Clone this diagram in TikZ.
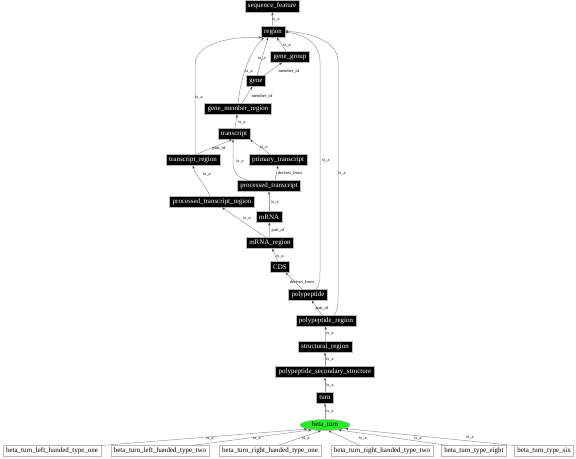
\documentclass[tikz,border=0pt]{standalone}
\usepackage{fontspec}
\setmainfont{Liberation Serif}
\usetikzlibrary{arrows.meta,shapes.geometric}
\definecolor{edgegray}{gray}{0.6}
\definecolor{tipgray}{gray}{0.3}
\definecolor{bordergray}{gray}{0.72}
\definecolor{btgreen}{RGB}{40,235,40}
\tikzset{
 term/.style={draw=bordergray, line width=0.6bp, fill=black, text=white, font=\fontsize{7}{8}\selectfont, inner xsep=3bp, inner ysep=0bp, minimum height=10.5bp},
 leaf/.style={term, fill=white, text=black},
 conn/.style={draw=edgegray, line width=0.5bp, -{Stealth[length=3.2bp,width=2.4bp,color=tipgray]}},
 lbl/.style={font=\fontsize{4.5}{5}\selectfont, inner sep=0.5bp},
}
\begin{document}
\begin{tikzpicture}[x=1bp,y=-1bp]
\useasboundingbox (0,0) rectangle (576,459);
% nodes
\node[term, minimum height=12bp] (seqf) at (272,6) {sequence\_feature};
\node[term] (region) at (273,32) {region};
\node[term] (gg) at (290,57) {gene\_group};
\node[term] (gene) at (256,81) {gene};
\node[term] (gmr) at (238,109) {gene\_member\_region};
\node[term] (transcript) at (234,134) {transcript};
\node[term] (trreg) at (193,160) {transcript\_region};
\node[term] (ptrans) at (278,160) {primary\_transcript};
\node[term] (proct) at (269,186) {processed\_transcript};
\node[term] (ptrreg) at (212,202) {processed\_transcript\_region};
\node[term] (mrna) at (269,217) {mRNA};
\node[term] (mreg) at (270,243) {mRNA\_region};
\node[term] (cds) at (280,267) {CDS};
\node[term] (pp) at (308,295) {polypeptide};
\node[term] (ppr) at (326,321) {polypeptide\_region};
\node[term] (sr) at (325,347) {structural\_region};
\node[term] (pss) at (325,372) {polypeptide\_secondary\_structure};
\node[term] (turn) at (325,398) {turn};
\node[ellipse, draw=bordergray, line width=0.6bp, fill=btgreen, font=\fontsize{7}{8}\selectfont, inner sep=0bp, minimum width=50bp, minimum height=11bp] (bt) at (325,425) {beta\_turn};
\node[leaf] (lh1) at (52,451) {beta\_turn\_left\_handed\_type\_one};
\node[leaf] (lh2) at (160,451) {beta\_turn\_left\_handed\_type\_two};
\node[leaf] (rh1) at (270,451) {beta\_turn\_right\_handed\_type\_one};
\node[leaf] (rh2) at (382,451) {beta\_turn\_right\_handed\_type\_two};
\node[leaf] (eight) at (474,451) {beta\_turn\_type\_eight};
\node[leaf] (six) at (544,451) {beta\_turn\_type\_six};
% edges
\draw[conn] (region) -- (seqf);
\draw[conn] (gg) -- (region);
\draw[conn] ([xshift=1bp]gene.north) -- ([xshift=-5bp]region.south);
\draw[conn] (gene) -- (gg);
\draw[conn] (gmr.north) .. controls (241,75) and (250,52) .. ([xshift=3bp]region.south west);
\draw[conn] (gmr) -- (gene);
\draw[conn] (transcript) -- (gmr);
\draw[conn] ([xshift=2bp]trreg.north) -- (195,65) .. controls (195,42) and (235,36) .. ([xshift=1bp]region.south west);
\draw[conn] ([xshift=3bp]trreg.north) -- ([xshift=-2bp]transcript.south);
\draw[conn] ([xshift=-8bp]ptrans.north) -- ([xshift=16bp]transcript.south);
\draw[conn] ([xshift=-19bp]proct.north) .. controls (236,178) and (233,172) .. (233,160) -- ([xshift=-1bp]transcript.south);
\draw[conn] ([xshift=6bp]proct.north) -- (ptrans.south);
\draw[conn] ([xshift=-2bp]ptrreg.north) .. controls (206,185) and (195,175) .. (trreg.south);
\draw[conn] (mrna) -- (proct);
\draw[conn] ([xshift=-4bp]mreg.north) -- ([xshift=10bp]ptrreg.south);
\draw[conn] (mreg) -- (mrna);
\draw[conn] (cds) -- (mreg);
\draw[conn] (pp) -- (cds);
\draw[conn] ([xshift=8bp]pp.north) .. controls (320,282) .. (320,268) -- (320,62) .. controls (320,40) and (300,34) .. (region.east);
\draw[conn] ([xshift=8bp]ppr.north) .. controls (338,308) .. (338,296) -- (338,62) .. controls (338,38) and (305,33) .. ([yshift=1bp]region.east);
\draw[conn] (ppr) -- (pp);
\draw[conn] (sr) -- (ppr);
\draw[conn] (pss) -- (sr);
\draw[conn] (turn) -- (pss);
\draw[conn] (bt) -- (turn);
\draw[conn] (lh1.north east) -- (bt.193);
\draw[conn] ([xshift=32bp]lh2.north) -- (bt.200);
\draw[conn] ([xshift=8bp]rh1.north) -- (bt.235);
\draw[conn] ([xshift=-22bp]rh2.north) -- (bt.300);
\draw[conn] ([xshift=-26bp]eight.north) -- (bt.340);
\draw[conn] (six.north west) -- (bt.350);
% labels
\node[lbl] (l1) at (276,19) {is\_a};
\node[lbl] (l2) at (287,45) {is\_a};
\node[lbl] (l3) at (262,58) {is\_a};
\node[lbl] (l4) at (249,71) {is\_a};
\node[lbl] (l5) at (289,71) {member\_of};
\node[lbl] (l6) at (262,96) {member\_of};
\node[lbl] (l7) at (199,97) {is\_a};
\node[lbl] (l8) at (326,160) {is\_a};
\node[lbl] (l9) at (342,173) {is\_a};
\node[lbl] (l10) at (242,122) {is\_a};
\node[lbl] (l11) at (219,148) {part\_of};
\node[lbl] (l12) at (264,147) {is\_a};
\node[lbl] (l13) at (240,161) {is\_a};
\node[lbl] (l14) at (290,173) {derives\_from};
\node[lbl] (l15) at (207,174) {is\_a};
\node[lbl] (l16) at (275,202) {is\_a};
\node[lbl] (l17) at (247,218) {is\_a};
\node[lbl] (l18) at (278,230) {part\_of};
\node[lbl] (l19) at (280,256) {is\_a};
\node[lbl] (l20) at (302,282) {derives\_from};
\node[lbl] (l21) at (322,308) {part\_of};
\node[lbl] (l22) at (330,333) {is\_a};
\node[lbl] (l23) at (330,359) {is\_a};
\node[lbl] (l24) at (330,385) {is\_a};
\node[lbl] (l25) at (330,411) {is\_a};
\node[lbl] (l26) at (210,438) {is\_a};
\node[lbl] (l27) at (257,438) {is\_a};
\node[lbl] (l28) at (306,438) {is\_a};
\node[lbl] (l29) at (363,438) {is\_a};
\node[lbl] (l30) at (418,438) {is\_a};
\node[lbl] (l31) at (470,437) {is\_a};
\end{tikzpicture}
\end{document}
